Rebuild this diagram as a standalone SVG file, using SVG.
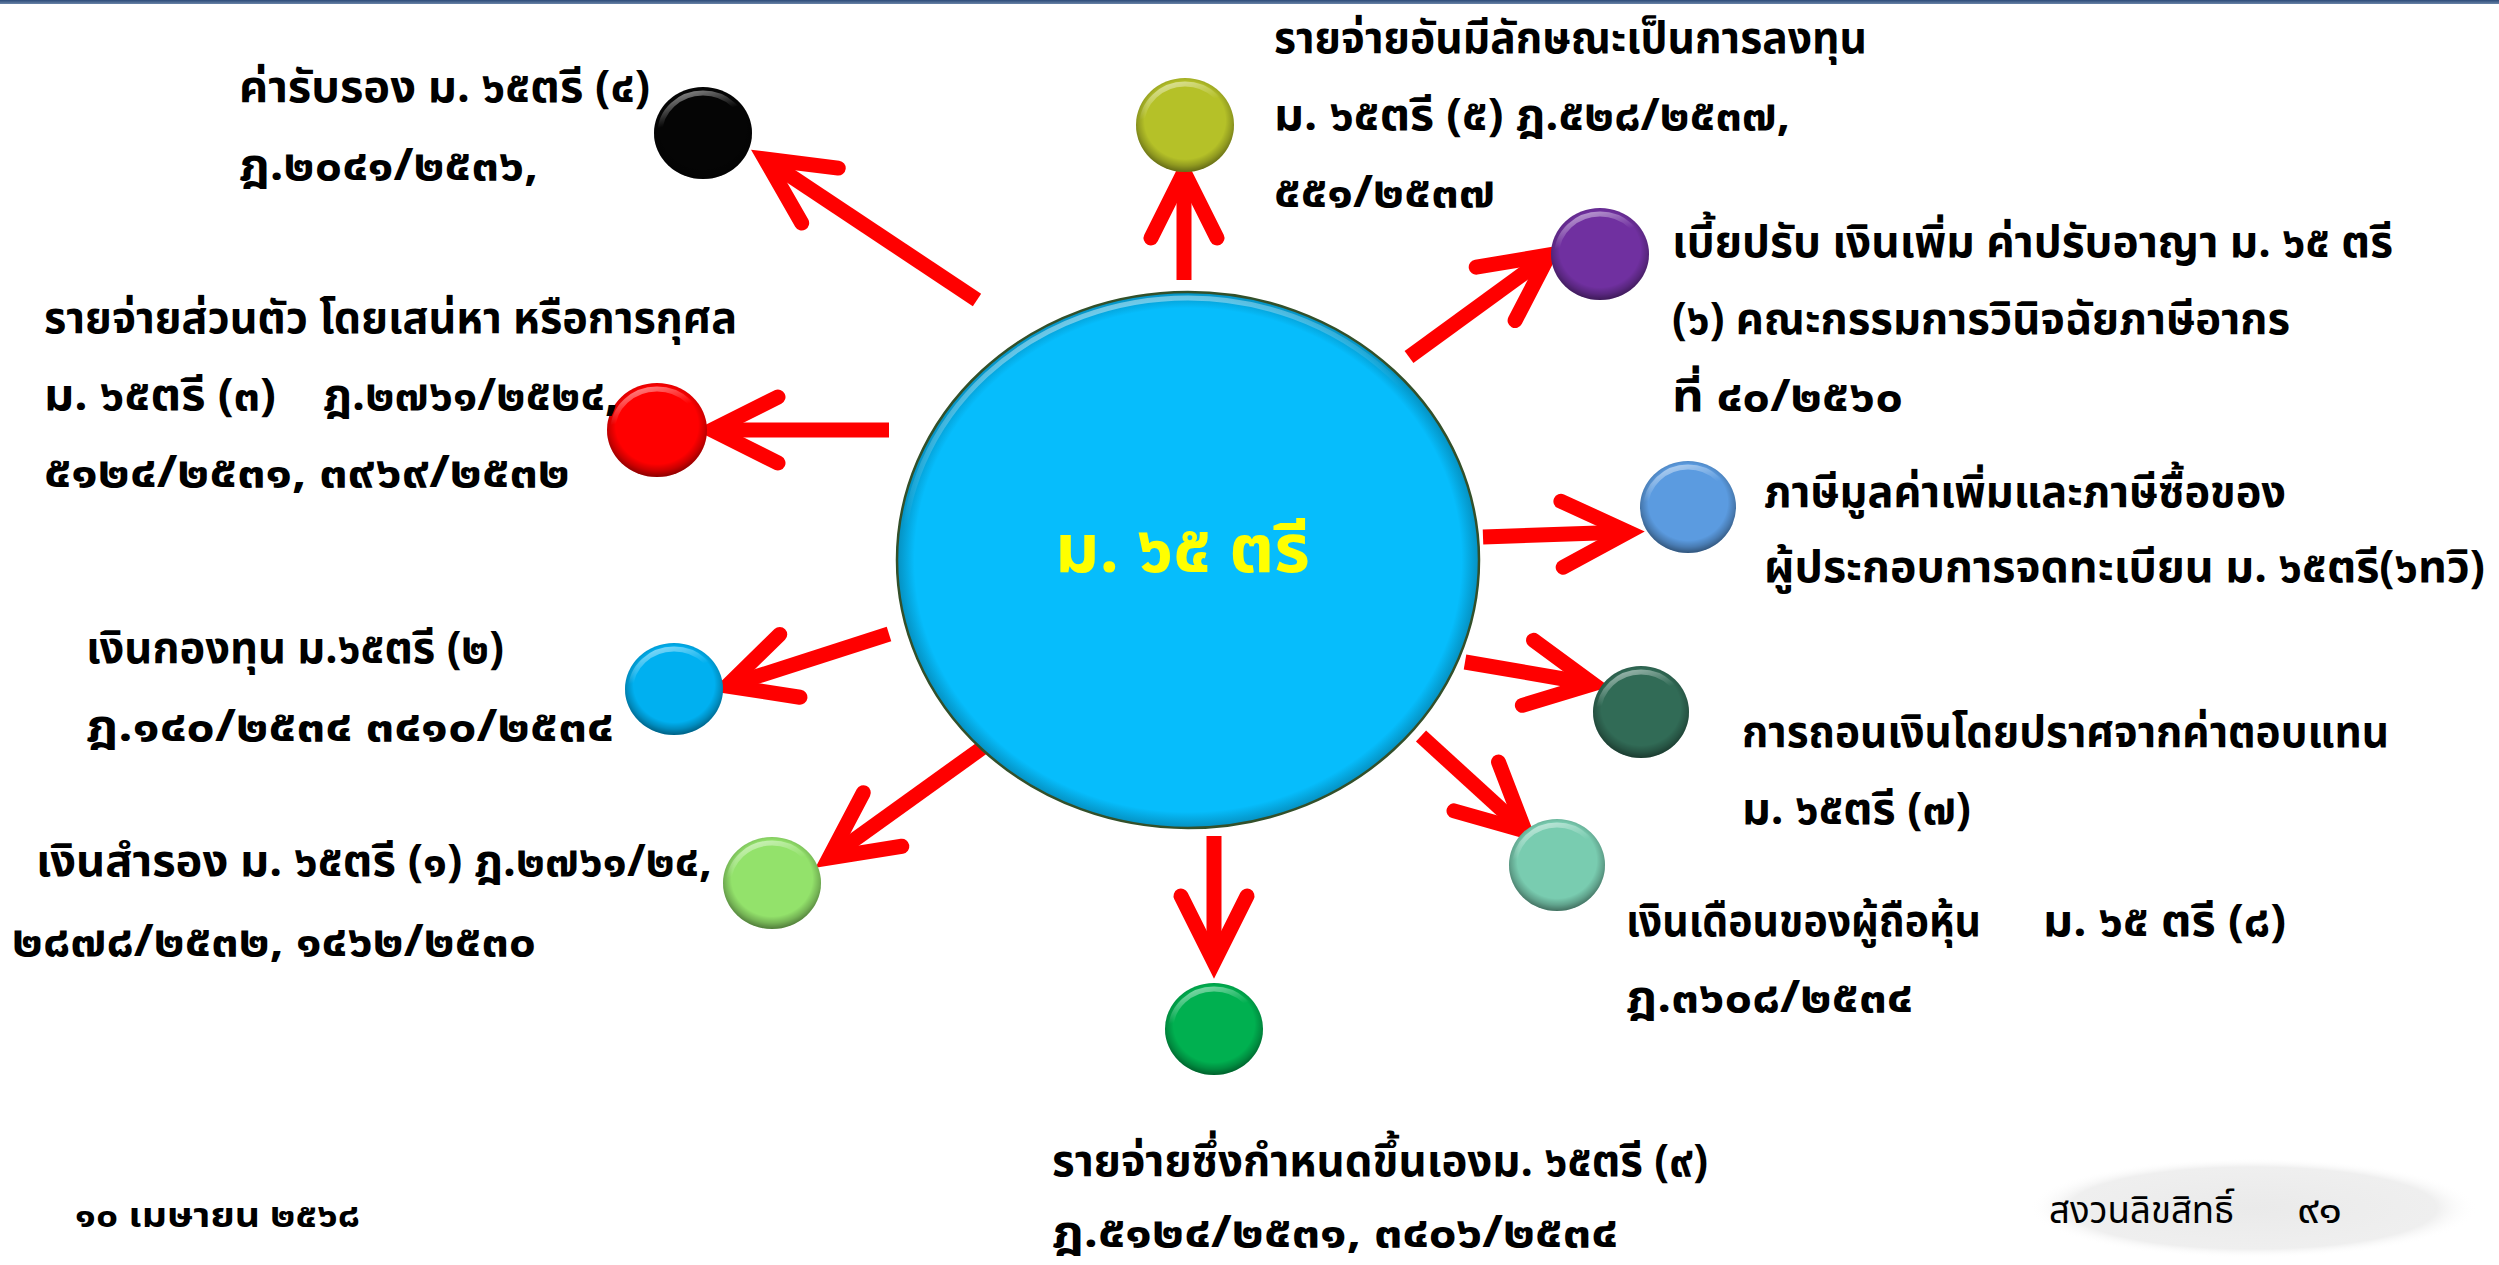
<svg xmlns="http://www.w3.org/2000/svg" width="2499" height="1265" viewBox="0 0 2499 1265">
<style>
.t{font-family:"Noto Sans Thai","Noto Sans","DejaVu Sans",sans-serif;font-size:44px;font-weight:bold;fill:#000}
.f{font-family:"Noto Sans Thai","Noto Sans","DejaVu Sans",sans-serif;font-size:38px;font-weight:normal;fill:#000}
.d{font-family:"Noto Sans Thai","Noto Sans","DejaVu Sans",sans-serif;font-size:34px;font-weight:bold;fill:#000}
.c{font-family:"Noto Sans Thai","Noto Sans","DejaVu Sans",sans-serif;font-size:68px;font-weight:bold;fill:#ffff00}
.arr{fill:none;stroke:#ff0000;stroke-width:15;stroke-linecap:butt}
.rim{fill:none;stroke:url(#rim);stroke-width:5}
</style>
<defs>
<marker id="ah" markerUnits="userSpaceOnUse" orient="auto" overflow="visible" markerWidth="1" markerHeight="1" refX="0" refY="0">
<path d="M-66,-33 L0,0 L-66,33" fill="none" stroke="#ff0000" stroke-width="15" stroke-linecap="round" stroke-linejoin="miter"/>
</marker>
<radialGradient id="shade" cx="50%" cy="45%" r="55%">
<stop offset="0" stop-color="#000" stop-opacity="0"/>
<stop offset="0.75" stop-color="#000" stop-opacity="0"/>
<stop offset="0.88" stop-color="#000" stop-opacity="0.2"/>
<stop offset="1" stop-color="#000" stop-opacity="0.45"/>
</radialGradient>
<linearGradient id="rim" x1="0" y1="0" x2="0.3" y2="1">
<stop offset="0" stop-color="#fff" stop-opacity="0.6"/>
<stop offset="0.4" stop-color="#fff" stop-opacity="0"/>
<stop offset="1" stop-color="#fff" stop-opacity="0"/>
</linearGradient>
<radialGradient id="big" cx="50%" cy="50%" r="50%">
<stop offset="0" stop-color="#06bdfc"/>
<stop offset="0.94" stop-color="#06bdfc"/>
<stop offset="1" stop-color="#0590c0"/>
</radialGradient>
<radialGradient id="foot" cx="50%" cy="50%" r="50%">
<stop offset="0" stop-color="#eaeaea"/>
<stop offset="0.82" stop-color="#efefef"/>
<stop offset="1" stop-color="#ffffff" stop-opacity="0"/>
</radialGradient>
<linearGradient id="top" x1="0" y1="0" x2="0" y2="1">
<stop offset="0" stop-color="#2c4a78"/>
<stop offset="1" stop-color="#6a84a8"/>
</linearGradient>
</defs>
<rect x="0" y="0" width="2499" height="1265" fill="#ffffff"/>
<rect x="0" y="0" width="2499" height="4" fill="url(#top)"/>

<g id="connectors">
<path class="arr" marker-end="url(#ah)" d="M977,300 L765,159"/>
<path class="arr" marker-end="url(#ah)" d="M1184,280 L1184,172"/>
<path class="arr" marker-end="url(#ah)" d="M1409,357 L1549,255"/>
<path class="arr" marker-end="url(#ah)" d="M889,430 L712,430"/>
<path class="arr" marker-end="url(#ah)" d="M1483,537 L1628,532"/>
<path class="arr" marker-end="url(#ah)" d="M1465,662 L1593,684"/>
<path class="arr" marker-end="url(#ah)" d="M1421,736 L1525,831"/>
<path class="arr" marker-end="url(#ah)" d="M1214,836 L1214,962"/>
<path class="arr" marker-end="url(#ah)" d="M982,748 L829,858"/>
<path class="arr" marker-end="url(#ah)" d="M889,634 L727,686"/>
</g>

<g id="center">
<ellipse cx="1188" cy="560" rx="291" ry="268" fill="url(#big)" stroke="#33502a" stroke-width="2.5"/>
<ellipse cx="1188" cy="560" rx="285" ry="262" class="rim"/>
<text class="c" x="1055" y="572" textLength="255" lengthAdjust="spacingAndGlyphs">ม. ๖๕ ตรี</text>
</g>

<g id="n4">
<ellipse cx="703" cy="133" rx="49" ry="46" fill="#050505"/>
<ellipse cx="703" cy="133" rx="49" ry="46" fill="url(#shade)"/>
<ellipse cx="703" cy="133" rx="43" ry="40" class="rim"/>
<text class="t" x="239" y="102" textLength="411" lengthAdjust="spacingAndGlyphs">ค่ารับรอง ม. ๖๕ตรี (๔)</text>
<text class="t" x="239" y="180" textLength="299" lengthAdjust="spacingAndGlyphs">ฎ.๒๐๔๑/๒๕๓๖,</text>
</g>

<g id="n5">
<ellipse cx="1185" cy="125" rx="49" ry="47" fill="#b5c128"/>
<ellipse cx="1185" cy="125" rx="49" ry="47" fill="url(#shade)"/>
<ellipse cx="1185" cy="125" rx="43" ry="41" class="rim"/>
<text class="t" x="1274" y="53" textLength="593" lengthAdjust="spacingAndGlyphs">รายจ่ายอันมีลักษณะเป็นการลงทุน</text>
<text class="t" x="1274" y="130" textLength="516" lengthAdjust="spacingAndGlyphs">ม. ๖๕ตรี (๕) ฎ.๕๒๘/๒๕๓๗,</text>
<text class="t" x="1274" y="207" textLength="221" lengthAdjust="spacingAndGlyphs">๕๕๑/๒๕๓๗</text>
</g>

<g id="n6">
<ellipse cx="1600" cy="254" rx="49" ry="46" fill="#7030a0"/>
<ellipse cx="1600" cy="254" rx="49" ry="46" fill="url(#shade)"/>
<ellipse cx="1600" cy="254" rx="43" ry="40" class="rim"/>
<text class="t" x="1672" y="257" textLength="721" lengthAdjust="spacingAndGlyphs">เบี้ยปรับ เงินเพิ่ม ค่าปรับอาญา ม. ๖๕ ตรี</text>
<text class="t" x="1672" y="334" textLength="618" lengthAdjust="spacingAndGlyphs">(๖) คณะกรรมการวินิจฉัยภาษีอากร</text>
<text class="t" x="1672" y="411" textLength="231" lengthAdjust="spacingAndGlyphs">ที่ ๔๐/๒๕๖๐</text>
</g>

<g id="n3">
<ellipse cx="657" cy="430" rx="50" ry="47" fill="#ff0000"/>
<ellipse cx="657" cy="430" rx="50" ry="47" fill="url(#shade)"/>
<ellipse cx="657" cy="430" rx="44" ry="41" class="rim"/>
<text class="t" x="44" y="333" textLength="693" lengthAdjust="spacingAndGlyphs">รายจ่ายส่วนตัว โดยเสน่หา หรือการกุศล</text>
<text class="t" x="44" y="410" textLength="232" lengthAdjust="spacingAndGlyphs">ม. ๖๕ตรี (๓)</text>
<text class="t" x="323" y="410" textLength="295" lengthAdjust="spacingAndGlyphs">ฎ.๒๗๖๑/๒๕๒๔,</text>
<text class="t" x="44" y="487" textLength="526" lengthAdjust="spacingAndGlyphs">๕๑๒๔/๒๕๓๑, ๓๙๖๙/๒๕๓๒</text>
</g>

<g id="n6bis">
<ellipse cx="1688" cy="507" rx="48" ry="46" fill="#5b9be0"/>
<ellipse cx="1688" cy="507" rx="48" ry="46" fill="url(#shade)"/>
<ellipse cx="1688" cy="507" rx="42" ry="40" class="rim"/>
<text class="t" x="1764" y="507" textLength="522" lengthAdjust="spacingAndGlyphs">ภาษีมูลค่าเพิ่มและภาษีซื้อของ</text>
<text class="t" x="1764" y="582" textLength="721" lengthAdjust="spacingAndGlyphs">ผู้ประกอบการจดทะเบียน ม. ๖๕ตรี(๖ทวิ)</text>
</g>

<g id="n2">
<ellipse cx="674" cy="689" rx="49" ry="46" fill="#00b0f0"/>
<ellipse cx="674" cy="689" rx="49" ry="46" fill="url(#shade)"/>
<ellipse cx="674" cy="689" rx="43" ry="40" class="rim"/>
<text class="t" x="86" y="663" textLength="418" lengthAdjust="spacingAndGlyphs">เงินกองทุน ม.๖๕ตรี (๒)</text>
<text class="t" x="86" y="741" textLength="528" lengthAdjust="spacingAndGlyphs">ฎ.๑๔๐/๒๕๓๔ ๓๔๑๐/๒๕๓๔</text>
</g>

<g id="n7">
<ellipse cx="1641" cy="712" rx="48" ry="46" fill="#316b56"/>
<ellipse cx="1641" cy="712" rx="48" ry="46" fill="url(#shade)"/>
<ellipse cx="1641" cy="712" rx="42" ry="40" class="rim"/>
<text class="t" x="1742" y="747" textLength="647" lengthAdjust="spacingAndGlyphs">การถอนเงินโดยปราศจากค่าตอบแทน</text>
<text class="t" x="1742" y="824" textLength="229" lengthAdjust="spacingAndGlyphs">ม. ๖๕ตรี (๗)</text>
</g>

<g id="n1">
<ellipse cx="772" cy="883" rx="49" ry="46" fill="#93e26b"/>
<ellipse cx="772" cy="883" rx="49" ry="46" fill="url(#shade)"/>
<ellipse cx="772" cy="883" rx="43" ry="40" class="rim"/>
<text class="t" x="36" y="876" textLength="676" lengthAdjust="spacingAndGlyphs">เงินสำรอง ม. ๖๕ตรี (๑) ฎ.๒๗๖๑/๒๔,</text>
<text class="t" x="12" y="956" textLength="524" lengthAdjust="spacingAndGlyphs">๒๘๗๘/๒๕๓๒, ๑๔๖๒/๒๕๓๐</text>
</g>

<g id="n8">
<ellipse cx="1557" cy="865" rx="48" ry="46" fill="#79ccb0"/>
<ellipse cx="1557" cy="865" rx="48" ry="46" fill="url(#shade)"/>
<ellipse cx="1557" cy="865" rx="42" ry="40" class="rim"/>
<text class="t" x="1626" y="936" textLength="355" lengthAdjust="spacingAndGlyphs">เงินเดือนของผู้ถือหุ้น</text>
<text class="t" x="2043" y="936" textLength="243" lengthAdjust="spacingAndGlyphs">ม. ๖๕ ตรี (๘)</text>
<text class="t" x="1626" y="1012" textLength="287" lengthAdjust="spacingAndGlyphs">ฎ.๓๖๐๘/๒๕๓๔</text>
</g>

<g id="n9">
<ellipse cx="1214" cy="1029" rx="49" ry="46" fill="#00b050"/>
<ellipse cx="1214" cy="1029" rx="49" ry="46" fill="url(#shade)"/>
<ellipse cx="1214" cy="1029" rx="43" ry="40" class="rim"/>
<text class="t" x="1052" y="1176" textLength="656" lengthAdjust="spacingAndGlyphs">รายจ่ายซึ่งกำหนดขึ้นเองม. ๖๕ตรี (๙)</text>
<text class="t" x="1052" y="1247" textLength="566" lengthAdjust="spacingAndGlyphs">ฎ.๕๑๒๔/๒๕๓๑, ๓๔๐๖/๒๕๓๔</text>
</g>

<g id="footer">
<text class="d" x="75" y="1227" textLength="285" lengthAdjust="spacingAndGlyphs">๑๐ เมษายน ๒๕๖๘</text>
<ellipse cx="2253" cy="1208" rx="224" ry="50" fill="url(#foot)"/>
<text class="f" x="2049" y="1223" textLength="185" lengthAdjust="spacingAndGlyphs">สงวนลิขสิทธิ์</text>
<text class="f" x="2297" y="1223" textLength="45" lengthAdjust="spacingAndGlyphs">๙๑</text>
</g>
</svg>
